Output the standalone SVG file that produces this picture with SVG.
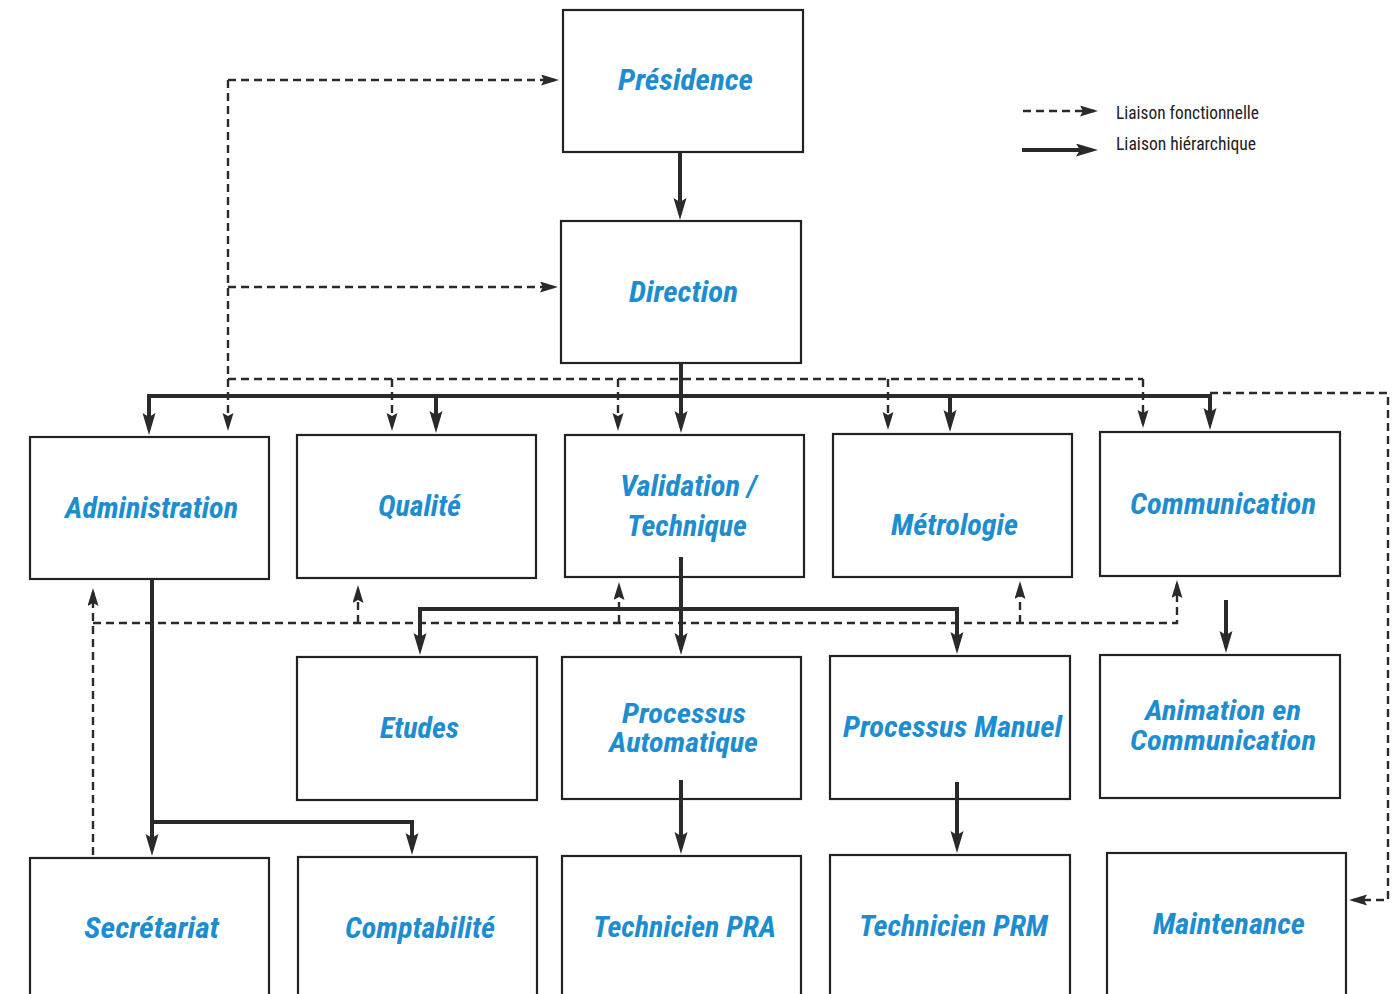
<svg xmlns="http://www.w3.org/2000/svg" width="1396" height="994" viewBox="0 0 1396 994">
<defs>
<style>
.box{fill:#fff;stroke:#222;stroke-width:2.2}
.lbl{font-family:"Liberation Sans Narrow","Roboto Condensed","Liberation Sans",sans-serif;font-weight:bold;font-style:italic;font-size:30px;fill:#1e8dd0}
.sm{font-size:27px}
.leg{font-family:"Liberation Sans Narrow","Roboto Condensed","Liberation Sans",sans-serif;font-size:19px;fill:#222}
.h{fill:none;stroke:#2a2a2a;stroke-width:4}
.f{fill:none;stroke:#2a2a2a;stroke-width:2.4;stroke-dasharray:8 5}
.ha{marker-end:url(#ah)}
.fa{marker-end:url(#af)}
</style>
<marker id="ah" markerUnits="userSpaceOnUse" markerWidth="24" markerHeight="14" refX="16" refY="6.5" orient="auto">
<path d="M0,0 L22,6.5 L0,13 L4,6.5 z" fill="#2a2a2a"/>
</marker>
<marker id="af" markerUnits="userSpaceOnUse" markerWidth="20" markerHeight="12" refX="14" refY="5.5" orient="auto">
<path d="M0,0 L18,5.5 L0,11 L3,5.5 z" fill="#2a2a2a"/>
</marker>
</defs>
<rect width="1396" height="994" fill="#fff"/>

<g id="presidence"><rect class="box" x="563" y="10" width="240" height="142"/>
<text class="lbl" x="618" y="90" textLength="135" lengthAdjust="spacingAndGlyphs">Présidence</text></g>
<g id="direction"><rect class="box" x="561" y="221" width="240" height="142"/>
<text class="lbl" x="629" y="302" textLength="109" lengthAdjust="spacingAndGlyphs">Direction</text></g>

<g id="administration"><rect class="box" x="30" y="437" width="239" height="142"/>
<text class="lbl" x="65" y="518" textLength="173" lengthAdjust="spacingAndGlyphs">Administration</text></g>
<g id="qualite"><rect class="box" x="297" y="435" width="239" height="143"/>
<text class="lbl" x="378" y="516" textLength="83" lengthAdjust="spacingAndGlyphs">Qualité</text></g>
<g id="validation"><rect class="box" x="565" y="435" width="239" height="142"/>
<text class="lbl" x="620" y="496" textLength="137" lengthAdjust="spacingAndGlyphs">Validation /</text>
<text class="lbl" x="627" y="536" textLength="120" lengthAdjust="spacingAndGlyphs">Technique</text></g>
<g id="metrologie"><rect class="box" x="833" y="434" width="239" height="143"/>
<text class="lbl" x="891" y="535" textLength="127" lengthAdjust="spacingAndGlyphs">Métrologie</text></g>
<g id="communication"><rect class="box" x="1100" y="432" width="240" height="144"/>
<text class="lbl" x="1130" y="514" textLength="186" lengthAdjust="spacingAndGlyphs">Communication</text></g>

<g id="etudes"><rect class="box" x="297" y="657" width="240" height="143"/>
<text class="lbl" x="380" y="738" textLength="79" lengthAdjust="spacingAndGlyphs">Etudes</text></g>
<g id="processus-automatique"><rect class="box" x="562" y="657" width="239" height="142"/>
<text class="lbl sm" x="622" y="723" textLength="124" lengthAdjust="spacingAndGlyphs">Processus</text>
<text class="lbl sm" x="609" y="752" textLength="149" lengthAdjust="spacingAndGlyphs">Automatique</text></g>
<g id="processus-manuel"><rect class="box" x="830" y="656" width="240" height="143"/>
<text class="lbl" x="843" y="737" textLength="219" lengthAdjust="spacingAndGlyphs">Processus Manuel</text></g>
<g id="animation"><rect class="box" x="1100" y="655" width="240" height="143"/>
<text class="lbl sm" x="1145" y="720" textLength="156" lengthAdjust="spacingAndGlyphs">Animation en</text>
<text class="lbl sm" x="1130" y="750" textLength="186" lengthAdjust="spacingAndGlyphs">Communication</text></g>

<g id="secretariat"><rect class="box" x="30" y="858" width="239" height="150"/>
<text class="lbl" x="84" y="938" textLength="135" lengthAdjust="spacingAndGlyphs">Secrétariat</text></g>
<g id="comptabilite"><rect class="box" x="298" y="857" width="239" height="150"/>
<text class="lbl" x="345" y="938" textLength="150" lengthAdjust="spacingAndGlyphs">Comptabilité</text></g>
<g id="technicien-pra"><rect class="box" x="562" y="856" width="239" height="150"/>
<text class="lbl" x="593" y="937" textLength="183" lengthAdjust="spacingAndGlyphs">Technicien PRA</text></g>
<g id="technicien-prm"><rect class="box" x="830" y="855" width="240" height="150"/>
<text class="lbl" x="859" y="936" textLength="189" lengthAdjust="spacingAndGlyphs">Technicien PRM</text></g>
<g id="maintenance"><rect class="box" x="1107" y="853" width="239" height="150"/>
<text class="lbl" x="1153" y="934" textLength="152" lengthAdjust="spacingAndGlyphs">Maintenance</text></g>

<g id="connectors">
<!-- hierarchical -->
<path class="h ha" d="M680,152 V214"/>
<path class="h" d="M681,363 V398"/>
<path class="h" d="M147,396 H1212"/>
<path class="h ha" d="M149,394 V429"/>
<path class="h ha" d="M436,394 V427"/>
<path class="h ha" d="M681,394 V427"/>
<path class="h ha" d="M950,394 V426"/>
<path class="h ha" d="M1210,394 V424"/>
<path class="h ha" d="M681,557 V649"/>
<path class="h" d="M418,609 H959"/>
<path class="h ha" d="M420,607 V649"/>
<path class="h ha" d="M957,607 V648"/>
<path class="h ha" d="M1226,600 V647"/>
<path class="h ha" d="M152,579 V850"/>
<path class="h ha" d="M152,822 H412 V849"/>
<path class="h ha" d="M681,780 V848"/>
<path class="h ha" d="M957,782 V847"/>
<!-- functional -->
<path class="f fa" d="M228,80 V427"/>
<path class="f fa" d="M228,80 H555"/>
<path class="f fa" d="M228,287 H554"/>
<path class="f" d="M228,379 H1143"/>
<path class="f fa" d="M392,379 V427"/>
<path class="f fa" d="M618,379 V427"/>
<path class="f fa" d="M888,379 V426"/>
<path class="f fa" d="M1143,379 V424"/>
<path class="f fa" d="M1210,393 H1388 V900 H1353"/>
<path class="f fa" d="M93,855 V592"/>
<path class="f fa" d="M93,623 H1177 V584"/>
<path class="f fa" d="M358,623 V589"/>
<path class="f fa" d="M619,623 V586"/>
<path class="f fa" d="M1020,623 V585"/>
</g>

<g id="legend">
<path class="f fa" d="M1023,111 H1094"/>
<path class="h ha" d="M1022,150 H1092"/>
<text class="leg" x="1116" y="119" textLength="143" lengthAdjust="spacingAndGlyphs">Liaison fonctionnelle</text>
<text class="leg" x="1116" y="150" textLength="140" lengthAdjust="spacingAndGlyphs">Liaison hiérarchique</text>
</g>
</svg>
